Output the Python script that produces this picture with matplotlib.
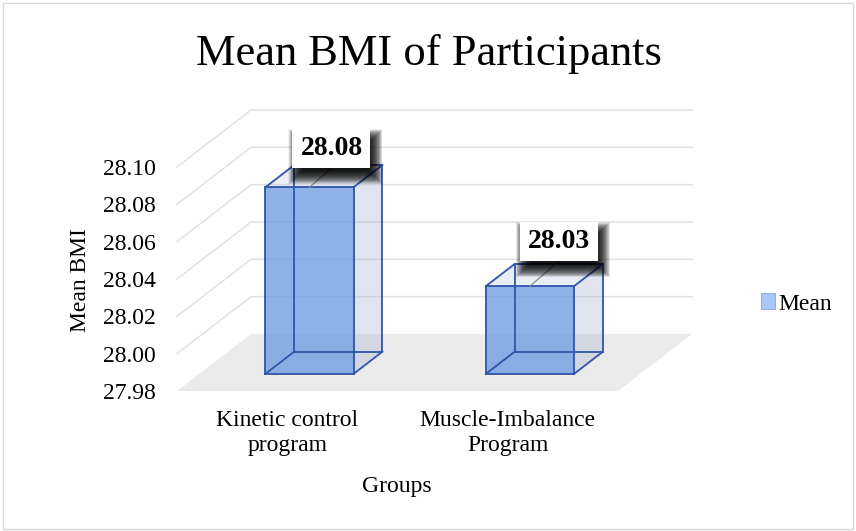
import matplotlib
matplotlib.use('Agg')
import matplotlib.pyplot as plt
import numpy as np
from matplotlib.patches import Polygon, Patch, Rectangle
from matplotlib.lines import Line2D
from matplotlib.transforms import IdentityTransform

# ---------------- data ----------------
categories = ['Kinetic control\nprogram', 'Muscle-Imbalance\nProgram']
mean_bmi = [28.08, 28.027]
value_labels = ['28.08', '28.03']
y_ticks = [27.98, 28.00, 28.02, 28.04, 28.06, 28.08, 28.10]
series_name = 'Mean'
title = 'Mean BMI of Participants'
x_title = 'Groups'
y_title = 'Mean BMI'

# ---------------- layout / style ----------------
W, H = 856, 531
plt.rcParams['font.family'] = ['Liberation Serif', 'DejaVu Serif']
fig = plt.figure(figsize=(W / 100, H / 100), dpi=100)

ax = fig.add_axes([177 / W, (H - 391) / H, (618 - 177) / W, (391 - 167) / H])
ax.set_xlim(-0.5, len(categories) - 0.5)
ax.set_ylim(y_ticks[0], y_ticks[-1])
ax.patch.set_visible(False)
for s in ax.spines.values():
    s.set_visible(False)

DX, DY = 74, 57          # full-depth oblique offset in pixels
D_FRONT, D_BACK = 0.30, 0.69
BAR_W = 0.4
EDGE = '#2F55A8'
GRID = '#E3E3E3'
label_offsets = [(22, 19), (29, 25)]   # leader offsets (px) from bar top
BOX_W, BOX_H = 78, 39

ID = IdentityTransform()


def proj(x, v, d):
    X, Y = ax.transData.transform((x, v))
    return (X + d * DX, Y + d * DY)


def poly(pts, **kw):
    p = Polygon([proj(*q) for q in pts], closed=True, transform=ID,
                clip_on=False, **kw)
    ax.add_artist(p)


def line(pts, **kw):
    xy = np.array([proj(*q) for q in pts])
    ax.add_artist(Line2D(xy[:, 0], xy[:, 1], transform=ID, clip_on=False, **kw))


x_lo, x_hi = ax.get_xlim()
v0 = y_ticks[0]

# floor
poly([(x_lo, v0, 0), (x_hi, v0, 0), (x_hi, v0, 1), (x_lo, v0, 1)],
     facecolor='#EBEBEB', edgecolor='none', zorder=0.5)

# gridlines (side wall + back wall)
for v in y_ticks[1:]:
    line([(x_lo, v, 0), (x_lo, v, 1), (x_hi, v, 1)], color=GRID, lw=1.2,
         zorder=0.6, solid_joinstyle='miter')

# bars
for i, v in enumerate(mean_bmi):
    x0, x1 = i - BAR_W / 2, i + BAR_W / 2
    f, b = D_FRONT, D_BACK
    # right side face
    poly([(x1, v0, f), (x1, v0, b), (x1, v, b), (x1, v, f)],
         facecolor='#A7B4D3', alpha=0.35, edgecolor='none', zorder=2)
    # top face
    poly([(x0, v, f), (x1, v, f), (x1, v, b), (x0, v, b)],
         facecolor='#B8C4DF', alpha=0.3, edgecolor='none', zorder=2)
    # front face
    poly([(x0, v0, f), (x1, v0, f), (x1, v, f), (x0, v, f)],
         facecolor='#6998E0', alpha=0.75, edgecolor='none', zorder=2.1)
    # edges
    ekw = dict(color=EDGE, lw=1.3, zorder=2.5, solid_joinstyle='miter')
    for d in (f, b):
        line([(x0, v0, d), (x1, v0, d), (x1, v, d), (x0, v, d), (x0, v0, d)], **ekw)
    for (xx, vv) in ((x0, v0), (x1, v0), (x1, v), (x0, v)):
        line([(xx, vv, f), (xx, vv, b)], **ekw)

    # data label with soft shadow and leader line
    ax_, ay_ = proj(i, v, f)
    ox, oy = label_offsets[i]
    bx, by = ax_ + ox, ay_ + oy
    line_xy = np.array([[ax_, ay_], [bx, by]])
    ax.add_artist(Line2D(line_xy[:, 0], line_xy[:, 1], transform=ID,
                         color='#8C8C8C', lw=0.9, zorder=4, clip_on=False))
    left, bottom = bx - BOX_W / 2, by
    sx, sy = 4, -8
    for g in np.linspace(8, -6, 40):
        ax.add_artist(Rectangle((left + sx - g, bottom + sy - g),
                                BOX_W + 2 * g, BOX_H + 2 * g, transform=ID,
                                facecolor='black', edgecolor='none', alpha=0.05,
                                zorder=4.5, clip_on=False))
    ax.add_artist(Rectangle((left, bottom), BOX_W, BOX_H, transform=ID,
                            facecolor='white', edgecolor='none', zorder=5,
                            clip_on=False))
    ax.text(bx, bottom + BOX_H / 2, value_labels[i], transform=ID,
            ha='center', va='center', fontsize=20, fontweight='bold',
            color='black', zorder=6, clip_on=False)

# axes ticks
ax.set_yticks(y_ticks)
ax.set_yticklabels([f'{t:.2f}' for t in y_ticks])
ax.set_xticks(range(len(categories)))
ax.set_xticklabels(categories)
ax.tick_params(axis='y', length=0, pad=15.5, labelsize=17)
ax.tick_params(axis='x', length=0, pad=14, labelsize=17)

# titles
fig.text(429 / W, 1 - 65 / H, title, fontsize=32, ha='center', va='baseline')
fig.text(397 / W, 1 - 492 / H, x_title, fontsize=17, ha='center', va='baseline')
fig.text(80 / W, 1 - 280 / H, y_title, fontsize=17, rotation=90,
         ha='center', va='center')

# legend
fig.legend(handles=[Patch(facecolor='#A9C6F8', edgecolor='#8FB0EA', lw=0.8)],
           labels=[series_name], loc='center left',
           bbox_to_anchor=(761 / W, 1 - 304 / H), frameon=False, fontsize=17,
           handlelength=0.6, handleheight=0.65, handletextpad=0.15,
           borderpad=0, borderaxespad=0)

# chart border
fig.add_artist(Rectangle((3, 2), W - 6, H - 5, transform=ID, facecolor='none',
                         edgecolor='#D9D9D9', lw=1.0))

fig.savefig('out.png', dpi=100)
